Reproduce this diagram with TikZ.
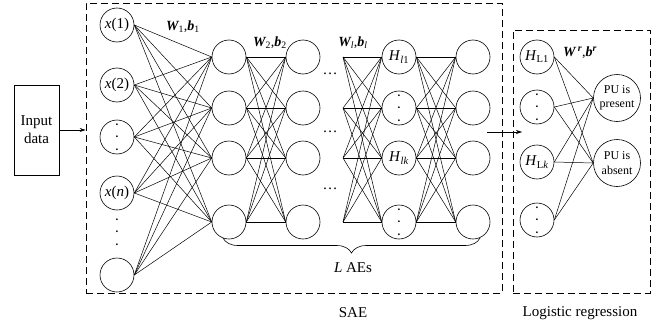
\documentclass[tikz,border=0pt]{standalone}
\usepackage{fontspec}
\setmainfont{Liberation Serif}
\usetikzlibrary{arrows.meta,decorations.pathreplacing}
\newcommand\vdt{{\fontsize{11}{12}\selectfont\bfseries\vbox{\baselineskip=12.5pt\lineskiplimit=0pt\hbox{.}\hbox{.}\hbox{.}}}}
\newcommand\bi[1]{{\bfseries\itshape #1}}
\begin{document}
\begin{tikzpicture}[x=1pt,y=-1pt,
  font=\fontsize{15}{18}\selectfont,
  neuron/.style={circle,draw,line width=0.6pt,minimum size=34pt,inner sep=0pt},
  outn/.style={circle,draw,line width=0.6pt,minimum size=47pt,inner sep=0pt,align=center,font=\fontsize{12}{14.5}\selectfont},
  conn/.style={line width=0.5pt},
  dbox/.style={draw,dashed,dash pattern=on 7pt off 4pt,line width=0.7pt},
  arr/.style={line width=0.6pt,-{Stealth[length=6pt,width=4pt]}},
  wlab/.style={font=\fontsize{14}{16}\selectfont}]
\useasboundingbox (0,0) rectangle (668,329);
% boxes
\node[draw,line width=0.6pt,minimum width=45pt,minimum height=90pt,align=center,inner sep=0pt] (input) at (36.5,130) {Input\\data};
\node[dbox,minimum width=416pt,minimum height=290pt,inner sep=0pt] (sae) at (294,148) {};
\node[dbox,minimum width=137pt,minimum height=263pt,inner sep=0pt] (lr) at (581.5,161.5) {};
\node (saelab) at (353,313) {SAE};
\node (lrlab) at (580,313) {Logistic regression};
% input layer
\node[neuron] (in1) at (117,25) {\textit{x}(1)};
\node[neuron] (in2) at (117,85) {\textit{x}(2)};
\node[neuron] (in3) at (117,137) {\vdt};
\node[neuron] (in4) at (117,193) {\textit{x}(\textit{n})};
\node (inD) at (117,232) {\vdt};
\node[neuron] (in5) at (117,275) {};
% hidden layer 1 and 2
\foreach \j/\y in {1/57,2/108,3/158,4/222}{
  \node[neuron] (ha\j) at (229,\y) {};
  \node[neuron] (hb\j) at (303,\y) {};
  \coordinate (f\j) at (343,\y);
  \node[neuron] (o\j) at (473,\y) {};
}
\node (hd1) at (330,74) {\dots};
\node (hd2) at (330,132) {\dots};
\node (hd3) at (330,189) {\dots};
% H_l column
\node[neuron] (hl1) at (399,57) {\textit{H}\textsubscript{\textit{l}1}};
\node[neuron] (hl2) at (399,108) {\vdt};
\node[neuron] (hl3) at (399,158) {\textit{H}\textsubscript{\textit{lk}}};
\node[neuron] (hl4) at (399,222) {\vdt};
% logistic
\node[neuron] (L1) at (537,57) {\textit{H}\textsubscript{L1}};
\node[neuron] (L2) at (537,107) {\vdt};
\node[neuron] (L3) at (537,162) {\textit{H}\textsubscript{L\textit{k}}};
\node[neuron] (L4) at (537,220) {\vdt};
\node[outn] (p1) at (617,98) {PU is\\present};
\node[outn] (p2) at (617,163) {PU is\\absent};
% labels
\node[wlab] (w1) at (183,27) {\bi{W}\textsubscript{1},\bi{b}\textsubscript{1}};
\node[wlab] (w2) at (270,43) {\bi{W}\textsubscript{2},\bi{b}\textsubscript{2}};
\node[wlab] (wl) at (353,43) {\bi{W}\textsubscript{\textit{l}},\bi{b}\textsubscript{\textit{l}}};
\node[wlab] (wr) at (580,53) {\bi{W}\,\textsuperscript{\bi{r}},\bi{b}\textsuperscript{\bi{r}}};
% connections
\foreach \i in {1,...,5}{\foreach \j in {1,...,4}{\draw[conn] (in\i.east) -- (ha\j.west);}}
\foreach \i in {1,...,4}{\foreach \j in {1,...,4}{
  \draw[conn] (ha\i.east) -- (hb\j.west);
  \draw[conn] (f\i) -- (hl\j.west);
  \draw[conn] (hl\i.east) -- (o\j.west);}}
\foreach \i in {1,...,4}{\foreach \j in {1,2}{\draw[conn] (L\i.east) -- (p\j.west);}}
% arrows
\draw[arr] (input.east) -- (input.east -| sae.west);
\coordinate (a1) at (487,132);
\coordinate (a2) at (522,132);
\draw[arr] (a1) -- (a2);
% brace
\coordinate (b1) at (223,238);
\coordinate (b2) at (480,238);
\draw[line width=0.6pt,decorate,decoration={brace,mirror,amplitude=15pt}] (b1) -- (b2);
\node (lae) at (353,268) {\textit{L} AEs};
\end{tikzpicture}
\end{document}
